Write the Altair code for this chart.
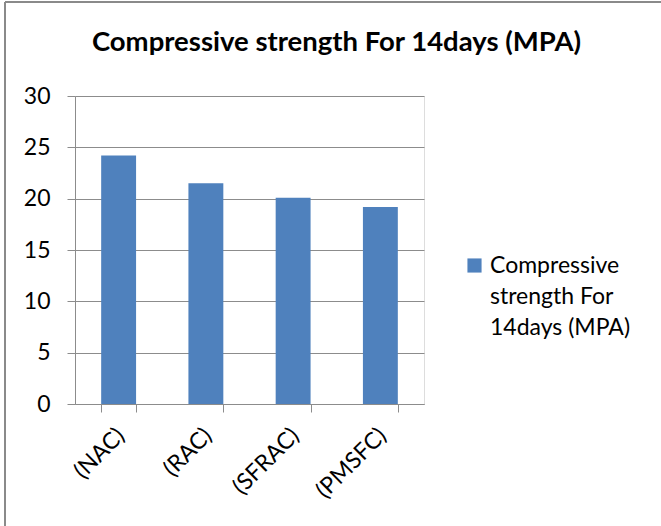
import altair as alt
import pandas as pd

# Compressive strength at 14 days for each concrete mix
mixes = ["(NAC)", "(RAC)", "(SFRAC)", "(PMSFC)"]
strength_14d = [24.2, 21.5, 20.1, 19.2]
series_name = "Compressive strength For 14days (MPA)"

df = pd.DataFrame({
    "mix": mixes,
    "strength": strength_14d,
    "series": [series_name] * len(mixes),
})

FONT = "Lato"
GRID = "#8c8c8c"
BAR = "#4F81BD"
LABEL_SIZE = 23

W, H = 349, 308

bars = alt.Chart(df).mark_bar(color=BAR).encode(
    x=alt.X(
        "mix:N",
        sort=mixes,
        title=None,
        scale=alt.Scale(paddingInner=0.6, paddingOuter=0.3),
        axis=alt.Axis(
            labelAngle=-45,
            labelFontSize=LABEL_SIZE,
            labelFont=FONT,
            labelColor="#000000",
            labelPadding=12,
            labelOffset=-6,
            tickBand="extent",
            tickSize=8,
            tickColor=GRID,
            domainColor=GRID,
            grid=False,
        ),
    ),
    y=alt.Y(
        "strength:Q",
        title=None,
        scale=alt.Scale(domain=[0, 30]),
        axis=alt.Axis(
            values=[0, 5, 10, 15, 20, 25, 30],
            labelFontSize=LABEL_SIZE,
            labelFont=FONT,
            labelColor="#000000",
            labelPadding=17,
            tickSize=8,
            tickColor=GRID,
            domainColor=GRID,
            gridColor=GRID,
            gridOpacity=1,
        ),
    ),
    color=alt.Color(
        "series:N",
        scale=alt.Scale(range=[BAR]),
        legend=alt.Legend(
            title=None,
            orient="none",
            legendX=388,
            legendY=158,
            symbolType="square",
            symbolSize=200,
            symbolStrokeWidth=0,
            symbolOpacity=1,
            labelFont=FONT,
            labelFontSize=LABEL_SIZE,
            labelColor="#000000",
            labelLimit=300,
            labelBaseline="middle",
            labelOffset=4,
            labelExpr="['Compressive', 'strength For', '14days (MPA)']",
        ),
    ),
)

# Outer chart frame (left and top edges)
frame_left = alt.Chart(df).mark_rule(color="#8a8a8a", strokeWidth=2, clip=False).encode(
    x=alt.value(-70), y=alt.value(-94), y2=alt.value(H + 140)
)
frame_top = alt.Chart(df).mark_rule(color="#8a8a8a", strokeWidth=2, clip=False).encode(
    x=alt.value(-70), x2=alt.value(W + 260), y=alt.value(-94)
)

chart = alt.layer(frame_left, frame_top, bars).properties(
    width=W,
    height=H,
    title=alt.TitleParams(
        series_name,
        font=FONT,
        fontSize=27.5,
        fontWeight="bold",
        color="#000000",
        anchor="middle",
        dx=87,
        offset=-55,
    ),
    autosize=alt.AutoSizeParams(type="none"),
    padding={"left": 75, "top": 96, "right": 237, "bottom": 122},
).configure_view(stroke=None).configure(
    background="#ffffff",
    style={"guide-label": {"lineHeight": 31}},
)

chart.save("out.html", embed_options={"renderer": "svg", "actions": False})
